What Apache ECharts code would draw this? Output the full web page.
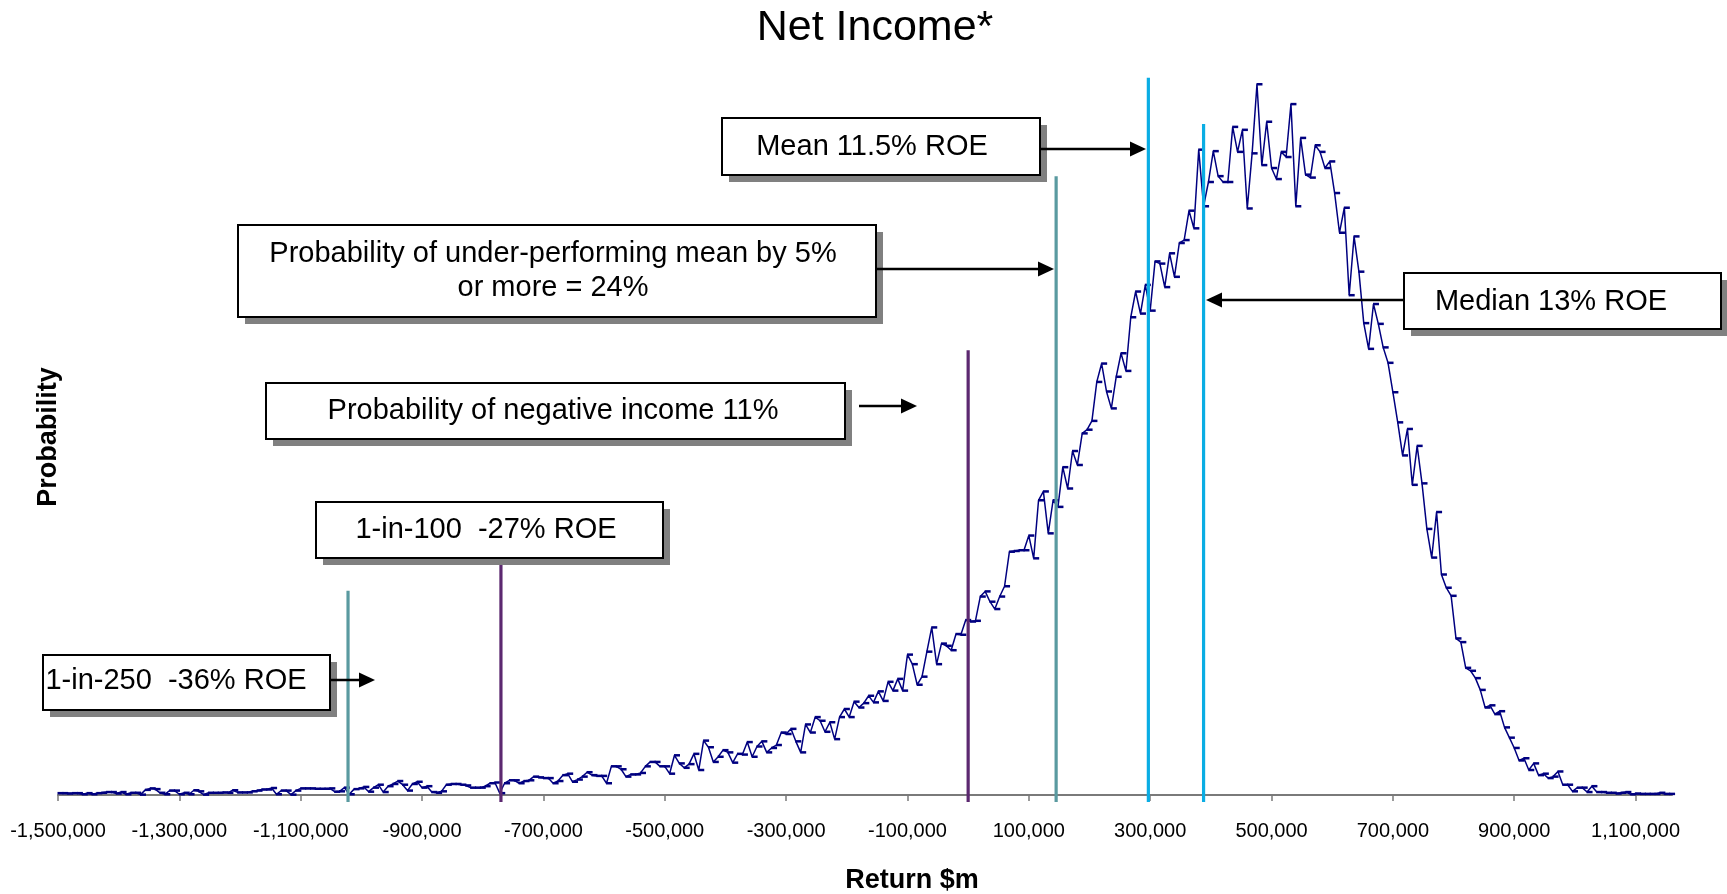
<!DOCTYPE html>
<html>
<head>
<meta charset="utf-8">
<script src="https://cdn.jsdelivr.net/npm/echarts@6.0.0/dist/echarts.min.js"></script>
<style>
html,body{margin:0;padding:0;background:#fff;}
#chart{width:1727px;height:894px;}
</style>
</head>
<body>
<div id="chart"></div>
<script>
// ---------------- DATA ----------------
const TITLE = 'Net Income*';
const X_NAME = 'Return $m';
const Y_NAME = 'Probability';

// histogram bins: first bin centre and bin width ($m)
const BIN_START = -1500000;
const BIN_WIDTH = 8000;

// probability per bin (relative units)
const PROBABILITY = [
  0.25,0.25,0.2,0.25,0.25,0.1,
  0.25,0.1,0.25,0.3,
  0.4,0.4,0.2,0.4,0.1,
  0.3,0.3,0.05,
  0.7,0.9,0.8,
  0.3,0.1,
  0.6,0.6,
  0.1,0.3,0.1,
  0.65,0.5,0.05,
  0.3,0.3,0.3,0.35,0.3,
  0.65,
  0.35,0.35,0.35,
  0.5,0.6,0.75,0.75,0.95,
  0.1,0.6,0.6,0.05,
  0.6,0.9,
  0.9,0.9,0.85,0.85,0.85,0.9,
  0.45,0.5,1.0,
  0.1,
  0.8,0.9,1.1,0.45,1.0,1.4,
  0.4,1.2,1.5,1.9,1.4,0.6,
  1.5,1.8,1.0,1.2,0.4,0.3,0.5,
  1.4,1.5,1.5,1.4,1.3,1.0,1.0,1.0,1.2,1.6,1.7,
  0.25,
  1.6,2.0,2.0,1.6,1.9,2.0,2.5,2.4,2.3,2.3,
  1.6,1.9,2.7,2.9,1.8,2.1,2.5,3.1,2.7,2.6,
  2.6,1.6,3.9,3.9,3.5,2.5,2.8,2.8,3.0,3.9,
  4.5,4.5,3.9,3.9,2.9,5.4,4.3,3.7,4.2,5.6,
  3.4,7.4,6.5,4.5,5.2,6.1,5.8,4.4,5.6,5.5,
  7.2,5.2,6.6,7.3,5.8,6.4,6.8,8.5,8.3,9.0,
  7.3,5.8,9.6,8.5,10.6,10.1,8.6,9.9,7.6,10.6,
  11.7,10.6,12.7,11.9,12.5,13.5,12.6,14.1,12.8,15.4,
  14.2,15.8,14.2,19.1,17.8,15.0,16.1,19.5,22.8,17.8,
  20.6,20.3,19.7,21.9,21.8,23.8,23.6,23.7,
  27.0,27.7,26.3,25.3,27.0,28.4,33.1,33.2,33.3,33.3,
  35.3,32.2,40.1,41.3,35.6,40.1,39.2,44.6,41.7,46.8,
  44.9,49.2,49.7,50.9,56.2,58.7,
  54.9,52.6,56.9,60.1,57.7,65.0,68.5,65.5,69.4,65.9,
  72.6,72.3,69.1,73.7,70.5,75.1,75.5,79.5,77.1,87.8,
  80.1,83.4,87.6,84.2,83.4,83.4,90.9,87.5,90.5,79.8,
  87.3,96.7,85.7,91.6,85.3,83.8,87.5,86.8,94.0,
  80.1,89.4,84.4,84.0,88.4,87.5,85.3,86.2,81.9,76.5,
  79.9,68.0,76.0,71.2,64.2,60.7,66.8,64.1,60.9,58.8,
  54.8,50.7,46.2,49.8,42.2,47.5,42.4,36.2,32.3,38.5,
  30.0,28.2,27.1,21.3,20.8,17.3,16.9,15.9,14.3,11.9,
  12.2,11.0,11.4,9.2,7.8,6.4,4.7,5.0,3.4,4.3,
  2.7,2.9,2.3,2.5,3.2,1.4,1.4,0.5,1.0,1.0,
  0.4,1.2,0.4,0.4,0.3,0.3,0.2,0.3,0.4,0.1,
  0.2,0.15,0.15,0.15,0.15,0.3,0.15,0.15
];

const X_TICKS = [-1500000,-1300000,-1100000,-900000,-700000,-500000,-300000,-100000,100000,300000,500000,700000,900000,1100000];

// reference lines: x position ($m) and height (same units as PROBABILITY)
const MARKER_X   = [-1022000, -770000, 0, 145000, 297000, 388000];
const MARKER_TOP = [27.8, 31.4, 60.5, 84.2, 97.6, 91.3];

const ANNOTATIONS = [
  'Mean 11.5% ROE',
  'Probability of under-performing mean by 5%\nor more = 24%',
  'Probability of negative income 11%',
  '1-in-100  -27% ROE',
  '1-in-250  -36% ROE',
  'Median 13% ROE'
];

// ---------------- STYLE / LAYOUT ----------------
const FONT = '"Liberation Sans", Arial, Helvetica, sans-serif';
const MARKER_COLORS = ['#5A9AA0', '#5C2870', '#5C2870', '#5A9AA0', '#0AADE4', '#0AADE4'];
const LINE_BASE = -0.95;
// box: [x, y, w, h], text centre [cx, cy], arrow [x1, y1, tipX, tipY]
const BOX_LAYOUT = [
  {box:[722,118,318,57],  text:[872,147],  arrow:[1041,149,1146,149]},
  {box:[238,225,638,92],  text:[553,271],  arrow:[876,269,1054,269]},
  {box:[266,383,579,56],  text:[553,411],  arrow:[859,406,917,406]},
  {box:[316,502,347,56],  text:[486,530],  arrow:null},
  {box:[43,655,287,55],   text:[176,681],  arrow:[330,680,375,680]},
  {box:[1404,273,317,56], text:[1551,302], arrow:[1404,300,1206,300]}
];

const chart = echarts.init(document.getElementById('chart'), null, {renderer:'canvas'});

const curve = PROBABILITY.map((p, i) => [BIN_START + i * BIN_WIDTH, p]);

const markerSeries = MARKER_X.map((x, i) => ({
  type: 'line',
  data: [[x, LINE_BASE], [x, MARKER_TOP[i]]],
  symbol: 'none',
  silent: true,
  z: 4,
  lineStyle: {color: MARKER_COLORS[i], width: 3.2}
}));

function arrowElements(a) {
  const [x1, y1, x2, y2] = a;
  const dir = Math.sign(x2 - x1);
  const headLen = 16, headHalf = 7.5;
  return [
    {type:'line', z:100, shape:{x1:x1, y1:y1, x2:x2 - dir*headLen*0.8, y2:y2},
     style:{stroke:'#000', lineWidth:2.5}},
    {type:'polygon', z:100, shape:{points:[[x2, y2], [x2 - dir*headLen, y2 - headHalf], [x2 - dir*headLen, y2 + headHalf]]},
     style:{fill:'#000'}}
  ];
}

const graphics = [];
BOX_LAYOUT.forEach((L, i) => {
  const [x, y, w, h] = L.box;
  graphics.push({type:'rect', z:100, shape:{x:x+7, y:y+7, width:w, height:h}, style:{fill:'#808080'}});
  graphics.push({type:'rect', z:101, shape:{x:x, y:y, width:w, height:h}, style:{fill:'#fff', stroke:'#000', lineWidth:2}});
  graphics.push({type:'text', z:102, x:L.text[0], y:L.text[1],
    style:{text:ANNOTATIONS[i], fill:'#000', font:'29px ' + FONT, textAlign:'center', textVerticalAlign:'middle', lineHeight:34}});
  if (L.arrow) arrowElements(L.arrow).forEach(e => graphics.push(e));
});
// axis titles
graphics.push({type:'text', z:102, x:912, y:881,
  style:{text:X_NAME, fill:'#000', font:'bold 27px ' + FONT, textAlign:'center', textVerticalAlign:'middle'}});
graphics.push({type:'text', z:102, x:49, y:437, rotation:Math.PI/2,
  style:{text:Y_NAME, fill:'#000', font:'bold 27px ' + FONT, textAlign:'center', textVerticalAlign:'middle'}});

const option = {
  backgroundColor: '#ffffff',
  animation: false,
  title: {
    text: TITLE,
    left: 870,
    top: 2,
    padding: 5,
    textAlign: 'center',
    textStyle: {fontSize: 43, fontWeight: 'normal', color: '#000', fontFamily: FONT}
  },
  grid: {left: 58, right: 55, top: 60, bottom: 91.65, containLabel: false},
  xAxis: {
    type: 'value',
    min: -1500000,
    max: 1160000,
    axisLine: {show: true, onZero: true, lineStyle: {color: '#7a7a7a', width: 2}},
    axisTick: {show: true, length: 6, customValues: X_TICKS, lineStyle: {color: '#7a7a7a', width: 1.5}},
    axisLabel: {
      show: true,
      customValues: X_TICKS,
      margin: 19,
      color: '#000',
      fontSize: 20,
      fontFamily: FONT,
      formatter: v => Number(v).toLocaleString('en-US')
    },
    splitLine: {show: false}
  },
  yAxis: {
    type: 'value',
    min: -1,
    max: 100,
    axisLine: {show: false},
    axisTick: {show: false},
    axisLabel: {show: false},
    splitLine: {show: false}
  },
  series: [
    {
      type: 'line',
      data: curve,
      z: 3,
      showSymbol: true,
      showAllSymbol: true,
      symbol: 'rect',
      symbolSize: [6, 2.5],
      symbolOffset: [2.5, 0],
      itemStyle: {color: '#000080'},
      lineStyle: {color: '#000080', width: 1.5},
      silent: true
    }
  ].concat(markerSeries),
  graphic: graphics
};

chart.setOption(option);
</script>
</body>
</html>
